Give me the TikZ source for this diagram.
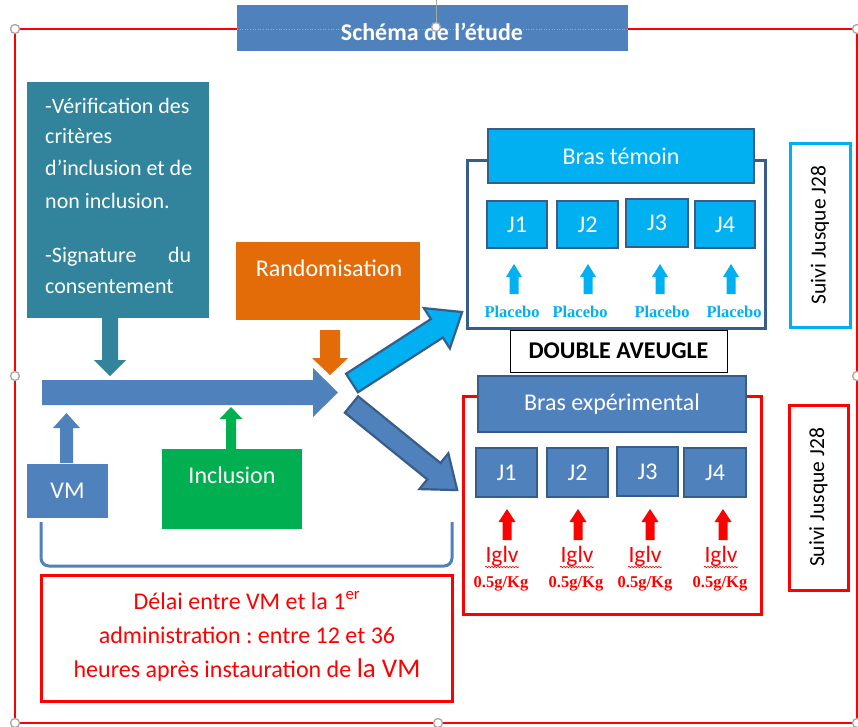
\documentclass[tikz,border=0pt]{standalone}
\usepackage{fontspec}
\setmainfont{Carlito}
\newfontfamily\tnr{Liberation Serif}
\usetikzlibrary{decorations.pathmorphing}
\frenchspacing
\definecolor{cblue}{HTML}{4F81BD}
\definecolor{cdark}{HTML}{385D8A}
\definecolor{cteal}{HTML}{31849B}
\definecolor{corange}{HTML}{E36C09}
\definecolor{cgreen}{HTML}{00B050}
\definecolor{ccyan}{HTML}{00B0F0}
\definecolor{cred}{HTML}{FF0000}
\definecolor{chandle}{HTML}{A6A6A6}
% box from (x1,y1) to (x2,y2)
\newcommand{\bx}[7][]{\node[bxs,#1,minimum width={#5-#3},minimum height={#6-#4}] (#2) at ({(#3+#5)/2},{(#4+#6)/2}) {#7};}
% vertical block arrow: x, ybase, yheadbase, ytip, stemhalf, headhalf, style
\newcommand{\vblock}[7]{\path[#7] (#1-#5,#2) -- (#1-#5,#3) -- (#1-#6,#3) -- (#1,#4) -- (#1+#6,#3) -- (#1+#5,#3) -- (#1+#5,#2) -- cycle;}
% oriented block arrow: x, y, angle, length, stemhalf, headhalf, headlen, style
\newcommand{\oblock}[8]{\path[#8,shift={(#1,#2)},rotate=#3] (0,-#5) -- (#4-#7,-#5) -- (#4-#7,-#6) -- (#4,0) -- (#4-#7,#6) -- (#4-#7,#5) -- (0,#5) -- cycle;}
\begin{document}
\begin{tikzpicture}[x=1pt,y=-1pt,
  bxs/.style={inner sep=0pt,outer sep=0pt,text=white,font=\fontsize{24}{28}\selectfont},
  jbox/.style={fill=#1,draw=cdark,line width=2.5pt},
  wtxt/.style={text=white,inner sep=0pt},
  handle/.style={circle,draw=chandle,fill=white,line width=1.3pt,minimum size=9pt,inner sep=0pt},
  plac/.style={text=ccyan,inner sep=0pt,anchor=base,font=\tnr\bfseries\fontsize{16.5}{18}\selectfont},
  dose/.style={text=cred,inner sep=0pt,anchor=base,font=\tnr\bfseries\fontsize{16.5}{18}\selectfont},
  iglv/.style={text=cred,inner sep=0pt,anchor=base,font=\fontsize{23.5}{26}\selectfont},
  wavy/.style={cred,line width=0.6pt,decorate,decoration={snake,amplitude=0.8pt,segment length=3pt}},
  tl/.style={text=white,inner sep=0pt,anchor=base west,font=\fontsize{22}{26}\selectfont},
  dl/.style={text=cred,inner sep=0pt,anchor=base,font=\fontsize{24}{28}\selectfont},
  suivi/.style={rotate=90,inner sep=0pt,font=\fontsize{21.5}{24}\selectfont}
]
\useasboundingbox (0,0) rectangle (858,726);
\fill[white] (0,0) rectangle (858,726);

% outer frame
\draw[cred,line width=2.2pt] (15,29) rectangle (857,723);

% title
\bx[fill=cblue]{title}{237}{5}{628}{51}{}
\draw[chandle,line width=0.6pt,dotted] (237,29) -- (628,29);
\node[wtxt,anchor=base,font=\bfseries\fontsize{24}{27}\selectfont] (titletxt) at (432,40) {Schéma de l’étude};
\draw[chandle,line width=1pt] (436,0) -- (436,22);
\node[handle] (hrot) at (436,27) {};

% teal box
\bx[fill=cteal]{teal}{27}{82}{209}{318}{}
\node[tl] (t1) at (45,113) {-Vérification des};
\node[tl] (t2) at (45,143) {critères};
\node[tl] (t3) at (45,175) {d’inclusion et de};
\node[tl] (t4) at (45,208) {non inclusion.};
\node[tl] (t5) at (45,262) {\hbox to 146pt{-Signature\hfill du}};
\node[tl] (t6) at (45,293) {consentement};
\vblock{110}{318}{360}{376}{8}{16}{fill=cteal}

% randomisation
\bx[fill=corange]{rand}{236}{242}{420}{320}{}
\node[wtxt,anchor=base,font=\fontsize{24}{28}\selectfont] (randtxt) at (329,276) {Randomisation};
\vblock{330}{330}{358}{375}{10}{18}{fill=corange}

% main horizontal arrow
\oblock{42}{392.5}{0}{296}{12.5}{24.5}{25}{fill=cblue}

% VM
\bx[fill=cblue]{vm}{27}{464}{108}{518}{VM}
\vblock{66.5}{463}{428}{413}{6.5}{13.5}{fill=cblue}

% inclusion
\bx[fill=cgreen]{incl}{162}{449}{302}{529}{}
\node[wtxt,anchor=base,font=\fontsize{24}{28}\selectfont] (incltxt) at (232,483) {Inclusion};
\vblock{231}{449}{419}{407}{5}{11.5}{fill=cgreen}

% brace
\draw[cblue,line width=3pt] (41,522) -- (41,558) to[out=-90,in=180] (49,566) -- (444,566) to[out=0,in=-90] (452,558) -- (452,522);

% delay box
\bx[draw=cred,line width=3pt]{delay}{41}{575}{452}{701}{}
\node[dl] (d1) at (247,609) {Délai entre VM et la 1\textsuperscript{er}};
\node[dl] (d2) at (247,643) {administration : entre 12 et 36};
\node[dl] (d3) at (247,677) {heures après instauration de {\fontsize{27}{30}\selectfont la VM}};

% diagonal arrows
\oblock{352}{383}{32.8}{131}{11}{24}{30}{fill=ccyan,draw=cdark,line width=2.2pt,line join=miter}
\oblock{351.5}{404.5}{-39}{136}{10.5}{23}{30}{fill=cblue,draw=cdark,line width=2.2pt,line join=miter}

% bras temoin
\draw[cdark,line width=3pt,fill=white] (467,160) rectangle (765,328);
\bx[jbox=ccyan]{bt}{488}{129}{754}{183}{Bras témoin}
\bx[jbox=ccyan]{bt1}{487}{201}{547}{248}{J1}
\bx[jbox=ccyan]{bt2}{557}{201}{618}{248}{J2}
\bx[jbox=ccyan]{bt3}{626}{199}{688}{247}{J3}
\bx[jbox=ccyan]{bt4}{695}{201}{755}{248}{J4}
\vblock{514}{294}{277}{264}{4.5}{8}{fill=ccyan}
\vblock{588}{294}{277}{264}{4.5}{8}{fill=ccyan}
\vblock{660}{294}{277}{264}{4.5}{8}{fill=ccyan}
\vblock{731}{294}{277}{264}{4.5}{8}{fill=ccyan}
\node[plac] (p1) at (512,317) {Placebo};
\node[plac] (p2) at (580,317) {Placebo};
\node[plac] (p3) at (662,317) {Placebo};
\node[plac] (p4) at (734,317) {Placebo};

% double aveugle
\bx[draw=black,line width=1pt,fill=white,text=black]{da}{510}{330}{727}{372}{\bfseries DOUBLE AVEUGLE}

% bras experimental
\draw[cred,line width=3pt] (463,396) rectangle (761,614);
\bx[jbox=cblue]{be}{478}{376}{746}{432}{Bras expérimental}
\bx[jbox=cblue]{be1}{476}{448}{537}{497}{J1}
\bx[jbox=cblue]{be2}{547}{448}{608}{497}{J2}
\bx[jbox=cblue]{be3}{617}{447}{678}{496}{J3}
\bx[jbox=cblue]{be4}{684}{448}{746}{497}{J4}
\vblock{507}{540}{522}{509}{4.5}{8.5}{fill=cred}
\vblock{578}{540}{522}{509}{4.5}{8.5}{fill=cred}
\vblock{650}{540}{522}{509}{4.5}{8.5}{fill=cred}
\vblock{723}{540}{522}{509}{4.5}{8.5}{fill=cred}
\node[iglv] (i1) at (502,562) {Iglv};
\node[iglv] (i2) at (577,562) {Iglv};
\node[iglv] (i3) at (645,562) {Iglv};
\node[iglv] (i4) at (721,562) {Iglv};
\draw[wavy] (485,567) -- (519,567);
\draw[wavy] (560,567) -- (594,567);
\draw[wavy] (628,567) -- (662,567);
\draw[wavy] (704,567) -- (738,567);
\node[dose] (g1) at (501,587) {0.5g/Kg};
\node[dose] (g2) at (576,587) {0.5g/Kg};
\node[dose] (g3) at (645,587) {0.5g/Kg};
\node[dose] (g4) at (720,587) {0.5g/Kg};

% suivi boxes
\bx[draw=ccyan,line width=3pt]{s1}{790}{143}{850}{327}{}
\node[suivi] (s1t) at (s1.center) {Suivi Jusque J28};
\bx[draw=cred,line width=3pt]{s2}{789}{405}{848}{590}{}
\node[suivi] (s2t) at (s2.center) {Suivi Jusque J28};

% selection handles
\node[handle] (h1) at (15,29) {};
\node[handle] (h2) at (857,29) {};
\node[handle] (h3) at (15,376) {};
\node[handle] (h4) at (857,376) {};
\node[handle] (h5) at (15,723) {};
\node[handle] (h6) at (438,723) {};
\node[handle] (h7) at (857,723) {};
\end{tikzpicture}
\end{document}
